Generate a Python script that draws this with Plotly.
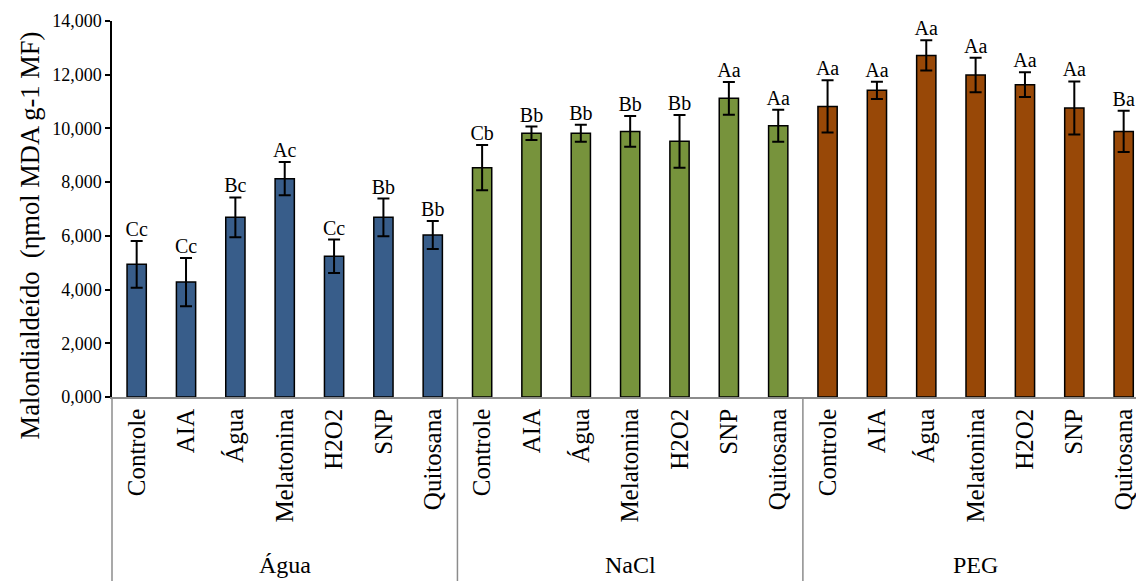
import plotly.graph_objects as go

# Treatments within each stress condition
treatments = ["Controle", "AIA", "Água", "Melatonina", "H2O2", "SNP", "Quitosana"]
groups = ["Água", "NaCl", "PEG"]
colors = ["#385D8A", "#77933C", "#984807"]

# Malondialdehyde means (ηmol MDA g-1 MF) per group, in treatment order
mda_agua = [4.94, 4.28, 6.69, 8.13, 5.24, 6.69, 6.03]
mda_nacl = [8.54, 9.82, 9.82, 9.89, 9.52, 11.12, 10.10]
mda_peg = [10.82, 11.42, 12.72, 11.99, 11.63, 10.76, 9.89]

# Error bar half-lengths
err_agua = [0.87, 0.90, 0.74, 0.62, 0.62, 0.70, 0.52]
err_nacl = [0.84, 0.25, 0.32, 0.57, 0.98, 0.61, 0.60]
err_peg = [0.97, 0.32, 0.56, 0.64, 0.46, 0.99, 0.77]

# Statistical letters
let_agua = ["Cc", "Cc", "Bc", "Ac", "Cc", "Bb", "Bb"]
let_nacl = ["Cb", "Bb", "Bb", "Bb", "Bb", "Aa", "Aa"]
let_peg = ["Aa", "Aa", "Aa", "Aa", "Aa", "Aa", "Ba"]

means = [mda_agua, mda_nacl, mda_peg]
errs = [err_agua, err_nacl, err_peg]
letters = [let_agua, let_nacl, let_peg]

FONT = "Liberation Serif"
n = len(treatments)

fig = go.Figure()
tickvals, ticktext = [], []
for g, (name, col) in enumerate(zip(groups, colors)):
    xs = [g * n + i for i in range(n)]
    tickvals += xs
    ticktext += treatments
    fig.add_trace(go.Bar(
        x=xs, y=means[g], width=0.39, name=name,
        marker=dict(color=col, line=dict(color="black", width=1.5)),
        error_y=dict(type="data", array=errs[g], visible=True,
                     color="black", thickness=2, width=6),
        showlegend=False,
    ))
    fig.add_trace(go.Scatter(
        x=xs, y=[m + e for m, e in zip(means[g], errs[g])],
        mode="text", text=letters[g], textposition="top center",
        textfont=dict(family=FONT, size=20, color="black"),
        showlegend=False, hoverinfo="skip",
    ))

x_min, x_max = -0.5, 20.25
span = x_max - x_min

# Vertical separators between groups in the category label area
shapes = []
for b in [-0.5, 6.5, 13.5, 20.5]:
    px = (b - x_min) / span
    if px <= 1.0:
        shapes.append(dict(type="line", xref="paper", yref="paper",
                           x0=px, x1=px, y0=0, y1=-0.5,
                           line=dict(color="#8C8C8C", width=1.5)))

annotations = []
for g, name in enumerate(groups):
    cx = (g * n + (n - 1) / 2 - x_min) / span
    annotations.append(dict(text=name, xref="paper", yref="paper",
                            x=cx, y=-0.448, showarrow=False,
                            xanchor="center", yanchor="middle",
                            font=dict(family=FONT, size=24, color="black")))

annotations.append(dict(text="Malondialdeído \u00a0(ηmol MDA g-1 MF)",
                        xref="paper", yref="paper", x=-0.080, y=0.43,
                        textangle=-90, showarrow=False,
                        xanchor="center", yanchor="middle",
                        font=dict(family=FONT, size=26.5, color="black")))

fig.update_layout(
    width=1136, height=581,
    margin=dict(l=112, r=0, t=21, b=184),
    paper_bgcolor="white", plot_bgcolor="white",
    separators=",.",
    font=dict(family=FONT, color="black"),
    shapes=shapes, annotations=annotations,
)
fig.update_xaxes(
    range=[x_min, x_max], tickvals=tickvals, ticktext=ticktext,
    tickangle=-90, tickfont=dict(family=FONT, size=25, color="black"),
    ticklabeloverflow="allow",
    showline=True, linecolor="#8C8C8C", linewidth=1.5,
    ticks="", showgrid=False, zeroline=False,
)
fig.update_yaxes(
    range=[0, 14], dtick=2, tickformat=".3f",
    tickfont=dict(family=FONT, size=18, color="black"),
    showline=True, linecolor="black", linewidth=1.5,
    ticks="outside", ticklen=5, tickcolor="black", tickwidth=1.5,
    showgrid=False, zeroline=False,
)

fig.write_html("out.html")
